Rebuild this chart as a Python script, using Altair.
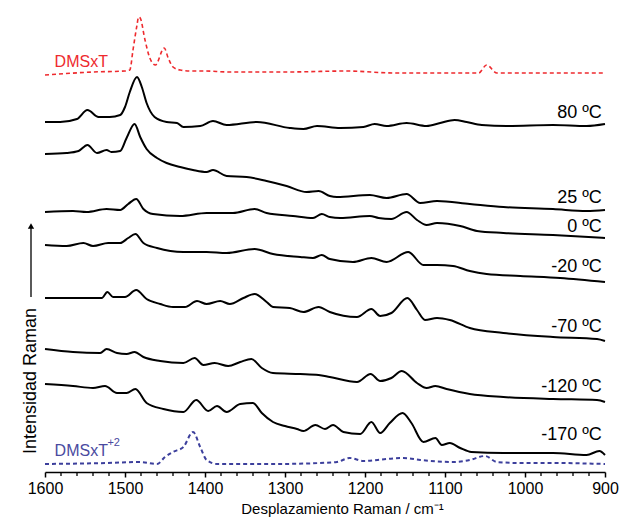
import altair as alt
import pandas as pd

FONT = "Liberation Sans, Arial, sans-serif"

# ---- spectra: Raman shift (cm-1) and stacked intensity (a.u.) ----
dmsxt_wn = [1600, 1540, 1500, 1494, 1490, 1485, 1483, 1481, 1475, 1469, 1462, 1451, 1446, 1440, 1431, 1419,
            1402, 1369, 1300, 1222, 1163, 1100, 1058, 1048, 1035, 1000, 900]
dmsxt_i = [397, 400, 401, 402, 422, 447, 455, 454, 432, 414, 407, 424, 414, 405, 402, 401,
           401, 400, 400, 401, 399, 399, 399, 407, 399, 399, 399]

t80_wn = [1600, 1581, 1560, 1547, 1533, 1519, 1506, 1500, 1494, 1485, 1479, 1473, 1463, 1448, 1435, 1427,
          1406, 1390, 1373, 1335, 1294, 1277, 1260, 1231, 1202, 1188, 1173, 1148, 1123, 1106, 1088, 1073,
          1054, 1023, 965, 923, 900]
t80_i = [350, 350, 353, 362, 355, 355, 357, 365, 380, 395, 385, 369, 355, 350, 349, 345,
         346, 351, 347, 350, 344, 343, 346, 344, 345, 348, 346, 349, 346, 349, 352, 350,
         347, 346, 347, 346, 348]

t25_wn = [1600, 1573, 1558, 1547, 1535, 1523, 1517, 1506, 1498, 1488, 1481, 1473, 1460, 1448, 1431, 1415,
          1398, 1390, 1373, 1348, 1323, 1298, 1273, 1258, 1244, 1235, 1194, 1173, 1148, 1131, 1110, 1069,
          1027, 965, 923, 900]
t25_i = [318, 319, 321, 327, 319, 322, 320, 321, 334, 348, 335, 323, 314, 309, 305, 302,
         300, 302, 296, 295, 291, 286, 280, 281, 276, 275, 277, 274, 278, 269, 271, 268,
         265, 263, 261, 262]

t0_wn = [1600, 1565, 1548, 1523, 1506, 1496, 1486, 1477, 1465, 1431, 1398, 1365, 1338, 1323, 1290, 1265,
         1254, 1244, 1231, 1194, 1183, 1167, 1148, 1135, 1123, 1110, 1081, 1060, 1027, 965, 900]
t0_i = [260, 261, 260, 263, 262, 268, 273, 263, 258, 256, 259, 259, 263, 259, 256, 254,
        258, 255, 254, 256, 254, 253, 260, 252, 247, 249, 246, 241, 239, 237, 234]

tm20_wn = [1600, 1573, 1552, 1540, 1521, 1506, 1496, 1487, 1477, 1460, 1427, 1398, 1373, 1338, 1315, 1281,
           1265, 1254, 1244, 1215, 1192, 1173, 1146, 1127, 1110, 1090, 1069, 1048, 1006, 956, 900]
tm20_i = [227, 226, 229, 226, 229, 229, 234, 238, 229, 224, 220, 220, 219, 223, 218, 215,
          214, 217, 213, 210, 214, 210, 220, 207, 207, 206, 201, 198, 196, 194, 190]

tm70_wn = [1600, 1565, 1529, 1522, 1515, 1500, 1486, 1473, 1456, 1440, 1425, 1410, 1398, 1381, 1369, 1352,
           1338, 1323, 1315, 1294, 1277, 1258, 1244, 1210, 1192, 1181, 1167, 1147, 1135, 1125, 1110, 1094,
           1069, 1027, 965, 910, 900]
tm70_i = [174, 174, 174, 180, 175, 175, 182, 173, 168, 165, 165, 171, 168, 171, 168, 174,
          178, 170, 165, 164, 160, 165, 160, 155, 163, 156, 159, 174, 162, 152, 154, 152,
          144, 139, 135, 133, 131]

tm120_wn = [1600, 1565, 1531, 1523, 1510, 1498, 1488, 1477, 1456, 1427, 1413, 1402, 1388, 1371, 1356, 1342,
            1329, 1315, 1281, 1258, 1244, 1210, 1193, 1181, 1167, 1154, 1135, 1123, 1112, 1098, 1069, 1027,
            965, 910, 900]
tm120_i = [123, 120, 119, 123, 119, 118, 120, 115, 111, 109, 114, 107, 109, 106, 110, 113,
           104, 99, 98, 97, 95, 90, 98, 91, 94, 101, 89, 84, 86, 83, 78, 75,
           73, 72, 70]

tm170_wn = [1600, 1565, 1540, 1525, 1510, 1498, 1487, 1473, 1452, 1427, 1411, 1396, 1385, 1373, 1356, 1340,
            1329, 1315, 1300, 1285, 1277, 1262, 1250, 1240, 1227, 1206, 1192, 1181, 1169, 1153, 1142, 1127,
            1112, 1104, 1094, 1081, 1067, 1027, 985, 965, 923, 907, 900]
tm170_i = [88, 86, 84, 86, 79, 79, 83, 69, 63, 60, 72, 61, 66, 60, 68, 69,
           59, 50, 46, 43, 41, 47, 43, 47, 40, 38, 50, 39, 49, 59, 49, 30,
           34, 27, 29, 24, 20, 19, 19, 19, 17, 21, 17]

dmsxt2_wn = [1600, 1523, 1481, 1460, 1450, 1440, 1427, 1415, 1406, 1398, 1385, 1315, 1256, 1235, 1219, 1202,
             1173, 1152, 1131, 1090, 1069, 1050, 1035, 1006, 965, 900]
dmsxt2_i = [8, 9, 10, 8, 15, 20, 25, 40, 25, 12, 8, 8, 9, 10, 14, 11,
            13, 14, 12, 10, 12, 16, 10, 9, 9, 8]

# ---- labels and ticks ----
temp_labels = ["80 ºC", "25 ºC", "0 ºC", "-20 ºC", "-70 ºC", "-120 ºC", "-170 ºC"]
temp_label_i = [359, 274, 245, 205, 145, 85, 37]
major_ticks = [1600, 1500, 1400, 1300, 1200, 1100, 1000, 900]
minor_ticks = [v for v in range(900, 1601, 20) if v % 100 != 0]

black_series = [("80", t80_wn, t80_i), ("25", t25_wn, t25_i), ("0", t0_wn, t0_i),
                ("-20", tm20_wn, tm20_i), ("-70", tm70_wn, tm70_i), ("-120", tm120_wn, tm120_i),
                ("-170", tm170_wn, tm170_i)]

rows = []
for name, wn, iv in black_series:
    for w, v in zip(wn, iv):
        rows.append({"series": name, "wn": w, "I": v})
black_df = pd.DataFrame(rows)
red_df = pd.DataFrame({"wn": dmsxt_wn, "I": dmsxt_i})
blue_df = pd.DataFrame({"wn": dmsxt2_wn, "I": dmsxt2_i})

xscale = alt.Scale(domain=[1600, 900], nice=False, zero=False)
yscale = alt.Scale(domain=[0, 467], nice=False, zero=False)

X = alt.X("wn:Q", scale=xscale,
          axis=alt.Axis(values=major_ticks, format="d", labelOverlap=False,
                        title="Desplazamiento Raman / cm⁻¹", titleFontSize=15, titleFontWeight="normal",
                        titleFont=FONT, titleColor="black", titlePadding=5, titleX=297,
                        labelFontSize=16, labelFont=FONT, labelColor="black", labelPadding=3,
                        tickSize=5, tickColor="black", tickWidth=1.5,
                        domainColor="black", domainWidth=1.5, grid=False, labelFlush=False))
Y = alt.Y("I:Q", scale=yscale, axis=None)

black = alt.Chart(black_df).mark_line(color="black", strokeWidth=2, interpolate="monotone").encode(
    x=X, y=Y, detail="series:N")
red = alt.Chart(red_df).mark_line(color="#ee2a2e", strokeWidth=1.6, strokeDash=[4, 3],
                                  interpolate="monotone").encode(x=X, y=Y)
blue = alt.Chart(blue_df).mark_line(color="#3c3f9c", strokeWidth=2, strokeDash=[4, 3],
                                    interpolate="monotone").encode(x=X, y=Y)

minor = alt.Chart(pd.DataFrame({"wn": minor_ticks})).mark_rule(color="black", strokeWidth=1.3).encode(
    x=X, y=alt.value(467), y2=alt.value(471))

lab_df = pd.DataFrame({"label": temp_labels, "I": temp_label_i, "wn": [904] * len(temp_labels)})
labels = alt.Chart(lab_df).mark_text(align="right", baseline="middle", fontSize=18, font=FONT,
                                     color="black").encode(x=X, y=Y, text="label:N")

name_df = pd.DataFrame({"label": ["DMSxT"], "wn": [1588], "I": [410]})
name_red = alt.Chart(name_df).mark_text(align="left", baseline="middle", fontSize=16, font=FONT,
                                        color="#ee2a2e").encode(x=X, y=Y, text="label:N")
name2_df = pd.DataFrame({"label": ["DMSxT"], "wn": [1588], "I": [21]})
name_blue = alt.Chart(name2_df).mark_text(align="left", baseline="middle", fontSize=16, font=FONT,
                                          color="#4a4aa0").encode(x=X, y=Y, text="label:N")
sup_df = pd.DataFrame({"label": ["+2"], "wn": [1522], "I": [29]})
sup_blue = alt.Chart(sup_df).mark_text(align="left", baseline="middle", fontSize=11, font=FONT,
                                       color="#4a4aa0").encode(x=X, y=Y, text="label:N")

ytitle = alt.Chart(pd.DataFrame({"t": ["Intensidad Raman"]})).mark_text(
    angle=270, align="center", baseline="middle", fontSize=18, font=FONT, color="black").encode(
    x=alt.value(-14), y=alt.value(376), text="t:N")
arrow_line = alt.Chart(pd.DataFrame({"a": [0]})).mark_rule(color="black", strokeWidth=1.3).encode(
    x=alt.value(-14), y=alt.value(222), y2=alt.value(292))
arrow_head = alt.Chart(pd.DataFrame({"a": [0]})).mark_point(
    shape="triangle-up", filled=True, color="black", size=40, opacity=1).encode(
    x=alt.value(-14), y=alt.value(221))

chart = alt.layer(red, black, blue, minor, labels, name_red, name_blue, sup_blue, ytitle, arrow_line,
                  arrow_head).properties(
    width=560, height=467, padding={"left": 45, "top": 5, "right": 14, "bottom": 53},
    autosize=alt.AutoSizeParams(type="none"), background="white"
).configure_view(stroke=None).configure_axis(labelOverlap=False)

chart.save("out.html", embed_options={"renderer": "svg", "actions": False})
